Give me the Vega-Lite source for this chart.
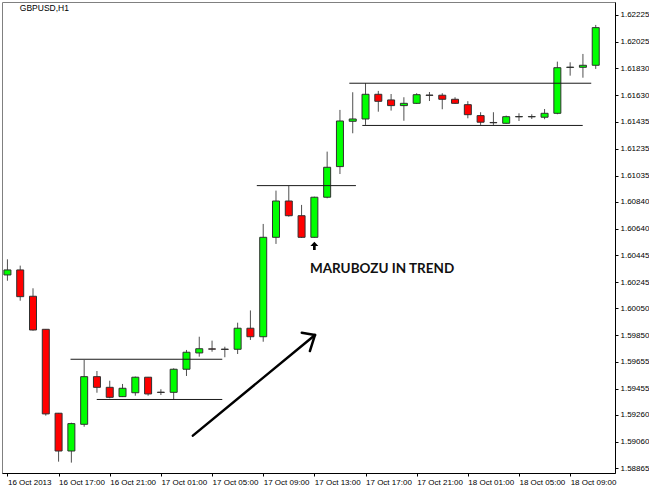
{
  "$schema": "https://vega.github.io/schema/vega-lite/v6.json",
  "width": 613,
  "height": 471,
  "padding": {"left": 2, "top": 2, "right": 0, "bottom": 0},
  "background": "white",
  "config": {
    "view": {"stroke": "#808080", "strokeWidth": 1},
    "axis": {"domainColor": "#000000", "tickColor": "#000000", "labelColor": "#000000", "labelFont": "Liberation Sans", "labelFontSize": 8, "grid": false, "tickSize": 3, "domainWidth": 1, "labelOverlap": false}
  },
  "datasets": {
    "candles": [
      {"time": "2013-10-16T13:00:00Z", "open": 1.60298, "high": 1.60414, "low": 1.60255, "close": 1.60335},
      {"time": "2013-10-16T14:00:00Z", "open": 1.60335, "high": 1.60367, "low": 1.60107, "close": 1.60137},
      {"time": "2013-10-16T15:00:00Z", "open": 1.60140, "high": 1.60199, "low": 1.59885, "close": 1.59890},
      {"time": "2013-10-16T16:00:00Z", "open": 1.59895, "high": 1.59897, "low": 1.59255, "close": 1.59268},
      {"time": "2013-10-16T17:00:00Z", "open": 1.59273, "high": 1.59275, "low": 1.58914, "close": 1.58993},
      {"time": "2013-10-16T18:00:00Z", "open": 1.58993, "high": 1.59203, "low": 1.58907, "close": 1.59196},
      {"time": "2013-10-16T19:00:00Z", "open": 1.59191, "high": 1.59668, "low": 1.59173, "close": 1.59544},
      {"time": "2013-10-16T20:00:00Z", "open": 1.59544, "high": 1.59586, "low": 1.59425, "close": 1.59465},
      {"time": "2013-10-16T21:00:00Z", "open": 1.59465, "high": 1.59514, "low": 1.59384, "close": 1.59391},
      {"time": "2013-10-16T22:00:00Z", "open": 1.59396, "high": 1.59490, "low": 1.59393, "close": 1.59458},
      {"time": "2013-10-16T23:00:00Z", "open": 1.59425, "high": 1.59545, "low": 1.59403, "close": 1.59540},
      {"time": "2013-10-17T00:00:00Z", "open": 1.59540, "high": 1.59542, "low": 1.59403, "close": 1.59416},
      {"time": "2013-10-17T01:00:00Z", "open": 1.59429, "high": 1.59451, "low": 1.59408, "close": 1.59427},
      {"time": "2013-10-17T02:00:00Z", "open": 1.59428, "high": 1.59606, "low": 1.59371, "close": 1.59599},
      {"time": "2013-10-17T03:00:00Z", "open": 1.59599, "high": 1.59742, "low": 1.59549, "close": 1.59725},
      {"time": "2013-10-17T04:00:00Z", "open": 1.59720, "high": 1.59840, "low": 1.59692, "close": 1.59751},
      {"time": "2013-10-17T05:00:00Z", "open": 1.59750, "high": 1.59811, "low": 1.59729, "close": 1.59748},
      {"time": "2013-10-17T06:00:00Z", "open": 1.59748, "high": 1.59766, "low": 1.59688, "close": 1.59746},
      {"time": "2013-10-17T07:00:00Z", "open": 1.59747, "high": 1.59944, "low": 1.59712, "close": 1.59903},
      {"time": "2013-10-17T08:00:00Z", "open": 1.59903, "high": 1.60035, "low": 1.59816, "close": 1.59840},
      {"time": "2013-10-17T09:00:00Z", "open": 1.59840, "high": 1.60676, "low": 1.59803, "close": 1.60577},
      {"time": "2013-10-17T10:00:00Z", "open": 1.60577, "high": 1.60923, "low": 1.60528, "close": 1.60846},
      {"time": "2013-10-17T11:00:00Z", "open": 1.60846, "high": 1.60957, "low": 1.60730, "close": 1.60737},
      {"time": "2013-10-17T12:00:00Z", "open": 1.60737, "high": 1.60817, "low": 1.60572, "close": 1.60577},
      {"time": "2013-10-17T13:00:00Z", "open": 1.60577, "high": 1.60878, "low": 1.60574, "close": 1.60874},
      {"time": "2013-10-17T14:00:00Z", "open": 1.60874, "high": 1.61212, "low": 1.60866, "close": 1.61096},
      {"time": "2013-10-17T15:00:00Z", "open": 1.61101, "high": 1.61521, "low": 1.61046, "close": 1.61439},
      {"time": "2013-10-17T16:00:00Z", "open": 1.61437, "high": 1.61652, "low": 1.61348, "close": 1.61454},
      {"time": "2013-10-17T17:00:00Z", "open": 1.61454, "high": 1.61719, "low": 1.61410, "close": 1.61637},
      {"time": "2013-10-17T18:00:00Z", "open": 1.61637, "high": 1.61662, "low": 1.61508, "close": 1.61585},
      {"time": "2013-10-17T19:00:00Z", "open": 1.61595, "high": 1.61639, "low": 1.61516, "close": 1.61553},
      {"time": "2013-10-17T20:00:00Z", "open": 1.61553, "high": 1.61615, "low": 1.61441, "close": 1.61570},
      {"time": "2013-10-17T21:00:00Z", "open": 1.61570, "high": 1.61645, "low": 1.61565, "close": 1.61634},
      {"time": "2013-10-17T22:00:00Z", "open": 1.61631, "high": 1.61654, "low": 1.61587, "close": 1.61629},
      {"time": "2013-10-17T23:00:00Z", "open": 1.61630, "high": 1.61645, "low": 1.61526, "close": 1.61600},
      {"time": "2013-10-18T00:00:00Z", "open": 1.61600, "high": 1.61615, "low": 1.61565, "close": 1.61570},
      {"time": "2013-10-18T01:00:00Z", "open": 1.61560, "high": 1.61586, "low": 1.61459, "close": 1.61486},
      {"time": "2013-10-18T02:00:00Z", "open": 1.61479, "high": 1.61504, "low": 1.61410, "close": 1.61430},
      {"time": "2013-10-18T03:00:00Z", "open": 1.61428, "high": 1.61504, "low": 1.61410, "close": 1.61426},
      {"time": "2013-10-18T04:00:00Z", "open": 1.61422, "high": 1.61479, "low": 1.61419, "close": 1.61471},
      {"time": "2013-10-18T05:00:00Z", "open": 1.61470, "high": 1.61496, "low": 1.61439, "close": 1.61472},
      {"time": "2013-10-18T06:00:00Z", "open": 1.61470, "high": 1.61489, "low": 1.61454, "close": 1.61472},
      {"time": "2013-10-18T07:00:00Z", "open": 1.61467, "high": 1.61528, "low": 1.61452, "close": 1.61496},
      {"time": "2013-10-18T08:00:00Z", "open": 1.61496, "high": 1.61879, "low": 1.61489, "close": 1.61834},
      {"time": "2013-10-18T09:00:00Z", "open": 1.61836, "high": 1.61874, "low": 1.61775, "close": 1.61838},
      {"time": "2013-10-18T10:00:00Z", "open": 1.61837, "high": 1.61936, "low": 1.61760, "close": 1.61852},
      {"time": "2013-10-18T11:00:00Z", "open": 1.61852, "high": 1.62151, "low": 1.61825, "close": 1.62131}
    ],
    "levels": [
      {"start": "2013-10-16T17:56:00Z", "end": "2013-10-17T05:48:00Z", "price": 1.59673},
      {"start": "2013-10-16T19:59:00Z", "end": "2013-10-17T05:48:00Z", "price": 1.59375},
      {"start": "2013-10-17T08:30:00Z", "end": "2013-10-17T16:15:00Z", "price": 1.60960},
      {"start": "2013-10-17T15:44:00Z", "end": "2013-10-18T10:39:00Z", "price": 1.61719},
      {"start": "2013-10-17T16:45:00Z", "end": "2013-10-18T09:59:00Z", "price": 1.61406}
    ],
    "arrows": [
      {"t1": "2013-10-17T03:30:00Z", "p1": 1.59107, "t2": "2013-10-17T13:03:00Z", "p2": 1.59853},
      {"t1": "2013-10-17T13:03:00Z", "p1": 1.59853, "t2": "2013-10-17T12:01:00Z", "p2": 1.59870},
      {"t1": "2013-10-17T13:03:00Z", "p1": 1.59853, "t2": "2013-10-17T12:39:00Z", "p2": 1.59734}
    ],
    "marker": [
      {"time": "2013-10-17T13:00:00Z", "price": 1.60513}
    ],
    "notes": [
      {"time": "2013-10-17T12:39:00Z", "price": 1.60340, "label": "MARUBOZU IN TREND"}
    ],
    "heading": [
      {"time": "2013-10-16T13:58:00Z", "price": 1.62277, "label": "GBPUSD,H1"}
    ]
  },
  "layer": [
    {
      "data": {"name": "candles"},
      "mark": {"type": "rule", "color": "#505050", "strokeWidth": 1, "clip": true},
      "encoding": {
        "x": {
          "field": "time", "type": "temporal", "title": null,
          "scale": {"type": "utc", "domain": [
            {"year": 2013, "month": 10, "date": 16, "hours": 12, "minutes": 58, "utc": true},
            {"year": 2013, "month": 10, "date": 18, "hours": 12, "minutes": 7, "utc": true}
          ]},
          "axis": {
            "orient": "bottom",
            "tickCount": 30,
            "values": [
              {"year": 2013, "month": 10, "date": 16, "hours": 13, "utc": true},
              {"year": 2013, "month": 10, "date": 16, "hours": 17, "utc": true},
              {"year": 2013, "month": 10, "date": 16, "hours": 21, "utc": true},
              {"year": 2013, "month": 10, "date": 17, "hours": 1, "utc": true},
              {"year": 2013, "month": 10, "date": 17, "hours": 5, "utc": true},
              {"year": 2013, "month": 10, "date": 17, "hours": 9, "utc": true},
              {"year": 2013, "month": 10, "date": 17, "hours": 13, "utc": true},
              {"year": 2013, "month": 10, "date": 17, "hours": 17, "utc": true},
              {"year": 2013, "month": 10, "date": 17, "hours": 21, "utc": true},
              {"year": 2013, "month": 10, "date": 18, "hours": 1, "utc": true},
              {"year": 2013, "month": 10, "date": 18, "hours": 5, "utc": true},
              {"year": 2013, "month": 10, "date": 18, "hours": 9, "utc": true}
            ],
            "labelExpr": "utcFormat(datum.value, '%d %H') == '16 13' ? '16 Oct 2013' : utcFormat(datum.value, '%d %b %H:%M')",
            "labelAlign": "left",
            "labelPadding": 2,
            "labelFlush": false,
            "labelOverlap": false
          }
        },
        "y": {
          "field": "low", "type": "quantitative", "title": null,
          "scale": {"domain": [1.58830, 1.62321], "zero": false, "nice": false},
          "axis": {
            "orient": "right",
            "tickCount": 40,
            "values": [1.62225, 1.62025, 1.61830, 1.61630, 1.61435, 1.61235, 1.61035, 1.60840, 1.60640, 1.60445, 1.60245, 1.60050, 1.59850, 1.59655, 1.59455, 1.59260, 1.59060, 1.58865],
            "format": ".5f",
            "labelPadding": 2,
            "labelFlush": false,
            "labelOverlap": false
          }
        },
        "y2": {"field": "high"}
      }
    },
    {
      "data": {"name": "candles"},
      "mark": {"type": "bar", "width": 7, "stroke": "#303030", "strokeWidth": 1, "clip": true},
      "encoding": {
        "x": {"field": "time", "type": "temporal", "title": null},
        "y": {"field": "open", "type": "quantitative", "title": null},
        "y2": {"field": "close"},
        "fill": {"condition": {"test": "datum.close > datum.open", "value": "#00ff00"}, "value": "#ff0000"}
      }
    },
    {
      "data": {"name": "levels"},
      "mark": {"type": "rule", "color": "#1a1a1a", "strokeWidth": 1},
      "encoding": {
        "x": {"field": "start", "type": "temporal", "title": null},
        "x2": {"field": "end"},
        "y": {"field": "price", "type": "quantitative", "title": null}
      }
    },
    {
      "data": {"name": "arrows"},
      "mark": {"type": "rule", "color": "#000000", "strokeWidth": 2.5, "strokeCap": "round"},
      "encoding": {
        "x": {"field": "t1", "type": "temporal", "title": null},
        "x2": {"field": "t2"},
        "y": {"field": "p1", "type": "quantitative", "title": null},
        "y2": {"field": "p2"}
      }
    },
    {
      "data": {"name": "marker"},
      "mark": {"type": "point", "shape": "M0,-1L0.95,0L0.32,0L0.32,1L-0.32,1L-0.32,0L-0.95,0Z", "filled": true, "color": "#000000", "size": 70, "opacity": 1},
      "encoding": {
        "x": {"field": "time", "type": "temporal", "title": null},
        "y": {"field": "price", "type": "quantitative", "title": null}
      }
    },
    {
      "data": {"name": "notes"},
      "mark": {"type": "text", "font": "Lato", "fontWeight": "bold", "fontSize": 13.5, "align": "left", "baseline": "middle", "color": "#111111"},
      "encoding": {
        "x": {"field": "time", "type": "temporal", "title": null},
        "y": {"field": "price", "type": "quantitative", "title": null},
        "text": {"field": "label"}
      }
    },
    {
      "data": {"name": "heading"},
      "mark": {"type": "text", "font": "Liberation Sans", "fontSize": 8.5, "align": "left", "baseline": "middle", "color": "#000000"},
      "encoding": {
        "x": {"field": "time", "type": "temporal", "title": null},
        "y": {"field": "price", "type": "quantitative", "title": null},
        "text": {"field": "label"}
      }
    }
  ]
}
